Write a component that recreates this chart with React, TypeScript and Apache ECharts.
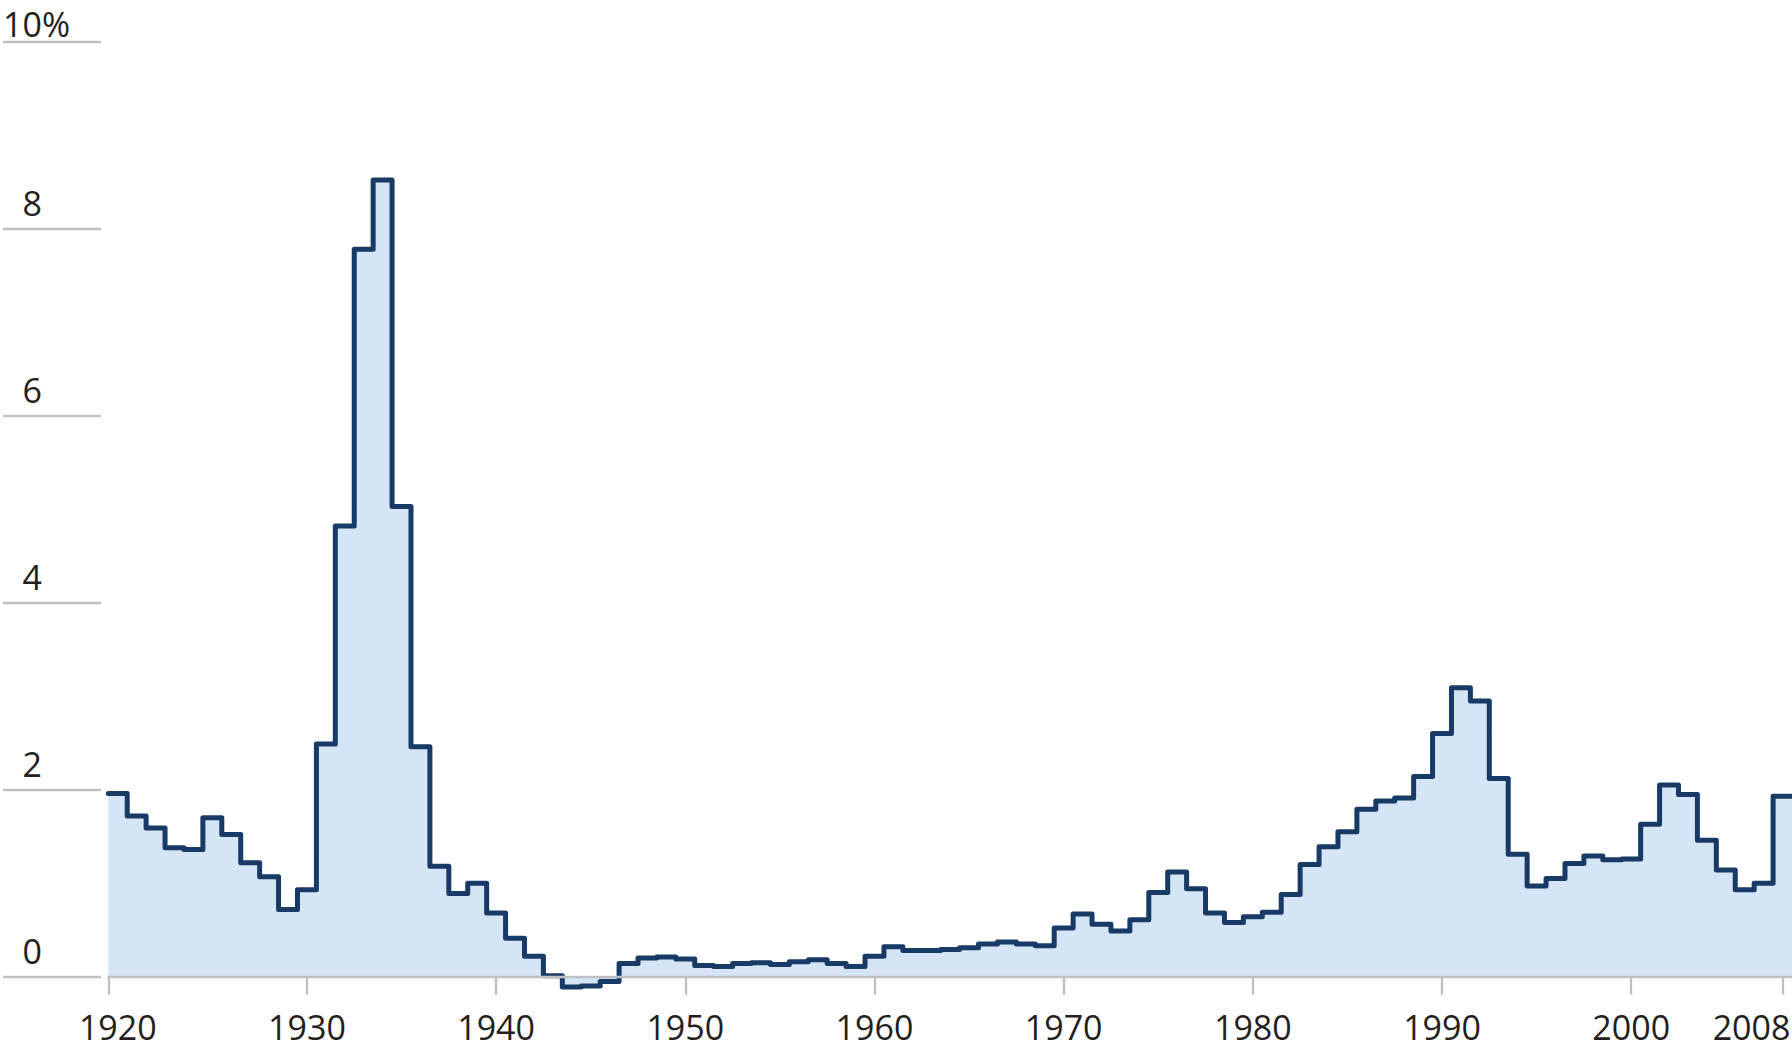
import React, { useEffect, useRef } from "react";
import * as echarts from "echarts";

const years = [
  1920, 1921, 1922, 1923, 1924, 1925, 1926, 1927, 1928, 1929,
  1930, 1931, 1932, 1933, 1934, 1935, 1936, 1937, 1938, 1939,
  1940, 1941, 1942, 1943, 1944, 1945, 1946, 1947, 1948, 1949,
  1950, 1951, 1952, 1953, 1954, 1955, 1956, 1957, 1958, 1959,
  1960, 1961, 1962, 1963, 1964, 1965, 1966, 1967, 1968, 1969,
  1970, 1971, 1972, 1973, 1974, 1975, 1976, 1977, 1978, 1979,
  1980, 1981, 1982, 1983, 1984, 1985, 1986, 1987, 1988, 1989,
  1990, 1991, 1992, 1993, 1994, 1995, 1996, 1997, 1998, 1999,
  2000, 2001, 2002, 2003, 2004, 2005, 2006, 2007, 2008,
];

const rates = [
  1.96, 1.72, 1.59, 1.38, 1.36, 1.70, 1.52, 1.22, 1.07, 0.72,
  0.93, 2.49, 4.82, 7.78, 8.52, 5.03, 2.46, 1.18, 0.89, 1.00,
  0.68, 0.41, 0.22, 0.01, -0.11, -0.10, -0.05, 0.14, 0.20, 0.21,
  0.19, 0.12, 0.11, 0.14, 0.15, 0.13, 0.16, 0.18, 0.14, 0.11,
  0.22, 0.32, 0.28, 0.28, 0.29, 0.31, 0.35, 0.37, 0.35, 0.33,
  0.52, 0.67, 0.56, 0.49, 0.61, 0.90, 1.12, 0.94, 0.68, 0.58,
  0.64, 0.69, 0.88, 1.20, 1.39, 1.55, 1.79, 1.88, 1.91, 2.14,
  2.60, 3.09, 2.95, 2.12, 1.31, 0.97, 1.05, 1.21, 1.29, 1.25,
  1.26, 1.63, 2.05, 1.95, 1.46, 1.14, 0.93, 1.00, 1.93,
];

const xLabelYears = [1920, 1930, 1940, 1950, 1960, 1970, 1980, 1990, 2000, 2008];
const xTickPositions = [1919.5, 1930, 1940, 1950, 1960, 1970, 1980, 1990, 2000, 2008];
const yMin = 0;
const yMax = 10;
const yStep = 2;

const FONT = "'Open Sans', 'Noto Sans', 'DejaVu Sans', sans-serif";
const TEXT = "#231f20";
const GRID = "#c0c0c4";
const LINE = "#173a66";
const FILL = "#d5e5f5";

export default function App() {
  const ref = useRef<HTMLDivElement>(null);

  useEffect(() => {
    document.body.style.margin = "0";
    const chart = echarts.init(ref.current as HTMLDivElement, null, { renderer: "svg" });

    const points: number[][] = years.map((y, i) => [y - 0.5, rates[i]]);
    points.push([years[years.length - 1] + 0.5, rates[rates.length - 1]]);

    const txt = { fontSize: 34, fontFamily: FONT, color: TEXT };

    chart.setOption({
      animation: false,
      grid: [
        {
          left: 108.3,
          right: 0,
          top: 41.7,
          bottom: 72.3,
          containLabel: false,
          outerBoundsMode: "none",
        },
        {
          left: 3,
          width: 98,
          top: 41.7,
          bottom: 72.3,
          containLabel: false,
          outerBoundsMode: "none",
        },
      ],
      xAxis: [
        {
          gridIndex: 0,
          type: "value",
          min: years[0] - 0.5,
          max: years[years.length - 1] + 0.5,
          z: 5,
          axisLine: { show: true, onZero: false, lineStyle: { color: GRID, width: 2.3 } },
          axisTick: {
            show: true,
            length: 18,
            customValues: xTickPositions,
            lineStyle: { color: GRID, width: 2.3 },
          },
          axisLabel: {
            customValues: xLabelYears,
            margin: 33,
            ...txt,
            formatter: (v: number) => (v === 2008 ? "{r|2008}" : String(v)),
            rich: {
              r: { padding: [0, 62, 0, 0], ...txt },
            },
          },
          splitLine: { show: false },
        },
        { gridIndex: 1, type: "value", min: 0, max: 1, show: false },
      ],
      yAxis: [
        { gridIndex: 0, type: "value", min: yMin, max: yMax, interval: yStep, show: false },
        {
          gridIndex: 1,
          type: "value",
          min: yMin,
          max: yMax,
          interval: yStep,
          axisLine: { show: false },
          axisTick: { show: false },
          splitLine: { show: true, lineStyle: { color: GRID, width: 2.3 } },
          axisLabel: {
            inside: true,
            margin: 0,
            verticalAlign: "bottom",
            padding: [0, 0, 11, 0],
            lineHeight: 30,
            ...txt,
            formatter: (v: number) => (v === yMax ? `{t|${v}}{tp|%}` : `{n|${v}}`),
            rich: {
              n: { width: 39, align: "right", lineHeight: 30, ...txt },
              t: { width: 39, align: "right", lineHeight: 14, ...txt },
              tp: { lineHeight: 14, ...txt },
            },
          },
        },
      ],
      series: [
        {
          type: "line",
          xAxisIndex: 0,
          yAxisIndex: 0,
          data: points,
          step: "end",
          symbol: "none",
          clip: false,
          z: 2,
          lineStyle: { color: LINE, width: 5, cap: "round", join: "round" },
          areaStyle: { color: FILL, opacity: 1, origin: 0 },
        },
      ],
    });

    return () => chart.dispose();
  }, []);

  return <div ref={ref} style={{ width: 1792, height: 1049 }} />;
}
